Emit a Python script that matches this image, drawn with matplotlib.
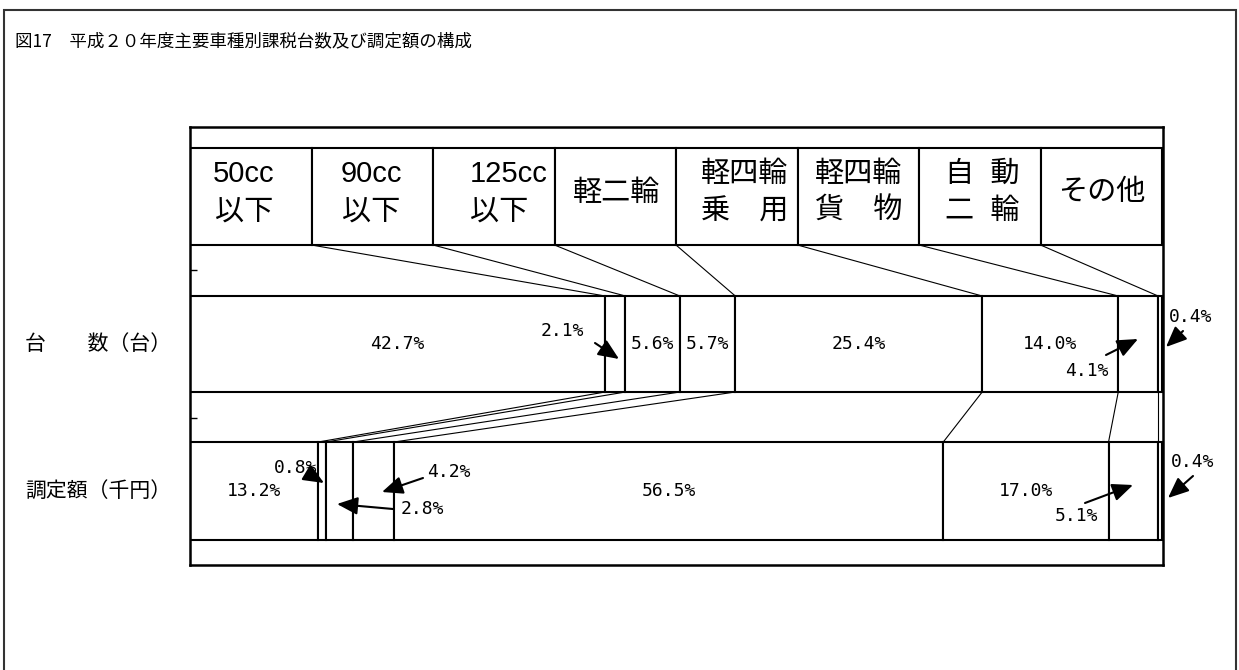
import matplotlib
matplotlib.use("Agg")
import matplotlib.pyplot as plt
from matplotlib.patches import Rectangle
import numpy as np

# ========================
# Data (shares in %)
# ========================
categories = ["50cc\n以下", "90cc\n以下", "125cc\n以下", "軽二輪",
              "軽四輪\n乗　用", "軽四輪\n貨　物", "自  動\n二  輪", "その他"]
count_share = [42.7, 2.1, 5.6, 5.7, 25.4, 14.0, 4.1, 0.4]     # 台数
amount_share = [13.2, 0.8, 2.8, 4.2, 56.5, 17.0, 5.1, 0.4]    # 調定額
row_labels = ["台　　数（台）", "調定額（千円）"]
title = "図17　平成２０年度主要車種別課税台数及び調定額の構成"

# ========================
# Layout (pixels of the 1239x670 picture)
# ========================
W, H = 1239, 670
L, R, T, B = 190, 1163, 127, 565      # plot frame
SCALE = 972 / 100                      # px per percent
HEAD_Y = (148, 245)
BAR_Y = [(296, 392), (442, 540)]

# header text x positions (px)
head_x = [244, 371, 509, 617, 745, 859, 982, 1102]

# labels that do not sit in the middle of their segment:
# index -> (text xy, arrow tail, arrow tip)
row_notes = [
    {1: ((562, 331), (595, 343), (619, 359)),
     6: ((1087, 371), (1106, 355), (1138, 339)),
     7: ((1191, 317), (1183, 331), (1166, 347))},
    {1: ((296, 468), (309, 474), (324, 483)),
     2: ((422, 509), (393, 509), (337, 504)),
     3: ((449, 472), (423, 478), (382, 492)),
     6: ((1076, 516), (1085, 503), (1133, 485)),
     7: ((1193, 462), (1193, 476), (1168, 498))},
]

JP = ["Noto Sans CJK JP", "DejaVu Sans"]
HEAD_FONT = ["Liberation Sans", "Noto Sans CJK JP"]
PCT_FONT = ["DejaVu Sans Mono"]


def px(x):
    """pixel x -> data x (percent)"""
    return (x - L) / SCALE


fig = plt.figure(figsize=(W / 100, H / 100), dpi=100)
fig.patch.set_facecolor("white")

ax = fig.add_axes([L / W, 1 - B / H, (R - L) / W, (B - T) / H])
ax.set_xlim(0, px(R))
ax.set_ylim(B, T)

# header boxes
n = len(categories)
cell = 100 / n
hy0, hy1 = HEAD_Y
ax.barh((hy0 + hy1) / 2, [cell] * n, left=np.arange(n) * cell, height=hy1 - hy0,
        color="white", edgecolor="black", linewidth=1.5, zorder=2)
for i, lab in enumerate(categories):
    ax.text(px(head_x[i]), (hy0 + hy1) / 2 - 4, lab, ha="center", va="center",
            multialignment="left" if i == 2 else "center",
            fontsize=21, family=HEAD_FONT, linespacing=1.42, zorder=3)

# stacked bars
rows = [count_share, amount_share]
cums = []
for r, shares in enumerate(rows):
    y0, y1 = BAR_Y[r]
    yc = (y0 + y1) / 2
    shares = np.array(shares)
    left = np.concatenate([[0], np.cumsum(shares)[:-1]])
    cums.append(np.cumsum(shares))
    ax.barh(yc, shares, left=left, height=y1 - y0, color="white",
            edgecolor="black", linewidth=1.5, zorder=2)

    for i, v in enumerate(shares):
        txt = f"{v:.1f}%"
        if i in row_notes[r]:
            (tx, ty), tail, tip = row_notes[r][i]
            ax.text(px(tx), ty, txt, ha="center", va="center", fontsize=13,
                    family=PCT_FONT, zorder=4, clip_on=False)
            ax.annotate("", xy=(px(tip[0]), tip[1]), xytext=(px(tail[0]), tail[1]),
                        annotation_clip=False, zorder=5,
                        arrowprops=dict(arrowstyle="-|>,head_length=0.7,head_width=0.3",
                                        color="black", lw=1.5, mutation_scale=18,
                                        shrinkA=0, shrinkB=0))
        else:
            ax.text(left[i] + v / 2, yc, txt, ha="center", va="center",
                    fontsize=13, family=PCT_FONT, zorder=4)

    fig.text(25 / W, 1 - yc / H, row_labels[r], ha="left", va="center",
             fontsize=15, family=JP)

# connector lines: header -> count bar -> amount bar
for i in range(n - 1):
    ax.plot([cell * (i + 1), cums[0][i]], [hy1, BAR_Y[0][0]], color="black", lw=0.8, zorder=1)
    ax.plot([cums[0][i], cums[1][i]], [BAR_Y[0][1], BAR_Y[1][0]], color="black", lw=0.8, zorder=1)

ax.set_xticks([])
ax.set_yticks([270, 418])
ax.tick_params(axis="y", direction="in", length=5, width=1, labelleft=False)
for s in ax.spines.values():
    s.set_linewidth(1.8)

# title and outer frame
fig.text(15 / W, 1 - 41 / H, title, ha="left", va="center", fontsize=12.6, family=JP)
fig.add_artist(Rectangle((4 / W, -0.01), (1236 - 4) / W, 1 - 10 / H + 0.01,
                         transform=fig.transFigure, fill=False, lw=1.5, ec="#333333"))

fig.savefig("out.png", dpi=100)
